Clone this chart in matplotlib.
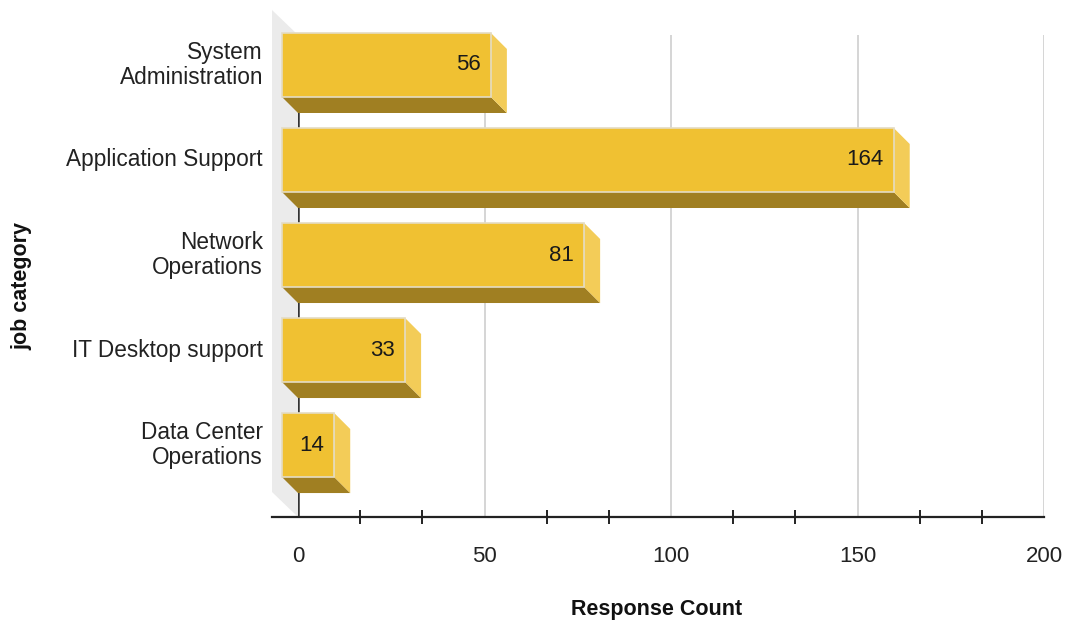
import matplotlib.pyplot as plt
from matplotlib.patches import Polygon
import numpy as np

# survey results per job category
categories = ['System\nAdministration', 'Application Support', 'Network\nOperations',
              'IT Desktop support', 'Data Center\nOperations']
counts = [56, 164, 81, 33, 14]
x_ticks = [0, 50, 100, 150, 200]

plt.rcParams['font.family'] = ['Liberation Sans', 'DejaVu Sans']
FS = 15.5

W, H = 1067, 623
fig = plt.figure(figsize=(W / 100, H / 100), dpi=100)
ax = fig.add_axes([298 / W, 1 - 517 / H, 746 / W, 482 / H])
ax.set_xlim(0, 200)
ax.set_ylim(4.589, -0.484)
for s in ax.spines.values():
    s.set_visible(False)
ax.set_yticks([])

# pixel -> data unit factors for the fake 3d depth
sx = 746 / 200.0
sy = 95.0
dx = 16 / sx
dy = 16 / sy
ytop, ybot = ax.get_ylim()[1], ax.get_ylim()[0]

# grey side wall
wx, wy = 26 / sx, 25 / sy
wall = Polygon([(0, ytop), (0, ybot), (-wx, ybot - wy), (-wx, ytop - wy)],
               closed=True, facecolor='#ebebeb', edgecolor='none', zorder=0, clip_on=False)
ax.add_patch(wall)

# grid lines and the value axis
ax.vlines(x_ticks[1:], ytop, ybot, color='#d2d2d2', lw=1.3, zorder=1)
ax.vlines(0, ytop, ybot, color='#333333', lw=1.8, zorder=1)
ax.plot([-wx, 200], [ybot, ybot], color='#222222', lw=1.6, zorder=2, clip_on=False)
minor = [t for t in np.arange(0, 200.1, 50 / 3.0) if abs(t / 50 - round(t / 50)) > 0.01]
tk = 7 / sy
ax.vlines(minor, ybot - tk, ybot + tk, color='#222222', lw=1.4, zorder=2, clip_on=False)

ax.set_xticks(x_ticks)
ax.set_xticklabels([str(t) for t in x_ticks], fontsize=16, color='#222222')
ax.tick_params(axis='x', length=0, pad=21)

# bars: front face, bottom face, right side face
h = 64 / sy
front_c = '#f0c132'
bottom_c = '#a07f22'
side_c = '#f3cc58'
for i, v in enumerate(counts):
    t, b = i - h / 2, i + h / 2
    bottom = Polygon([(-dx, b - dy), (v - dx, b - dy), (v, b), (0, b)],
                     closed=True, facecolor=bottom_c, edgecolor='none', zorder=3, clip_on=False)
    side = Polygon([(v - dx, t - dy), (v, t), (v, b), (v - dx, b - dy)],
                   closed=True, facecolor=side_c, edgecolor='none', zorder=3, clip_on=False)
    front = Polygon([(-dx, t - dy), (v - dx, t - dy), (v - dx, b - dy), (-dx, b - dy)],
                    closed=True, facecolor=front_c, edgecolor='#e4dcc4', lw=1.2,
                    zorder=4, clip_on=False)
    ax.add_patch(bottom)
    ax.add_patch(side)
    ax.add_patch(front)
    ax.text(v - dx - 10 / sx, i - dy, str(v), ha='right', va='center',
            fontsize=16, color='#1a1a1a', zorder=5)
    ax.text(-35 / sx, i - dy, categories[i], ha='right', va='center',
            multialignment='right', fontsize=16.3, linespacing=1.12,
            color='#222222', clip_on=False)

fig.text(657 / W, 1 - 610 / H, 'Response Count', ha='center', va='center',
         fontsize=FS, fontweight='bold', color='#111111')
fig.text(22 / W, 1 - 286 / H, 'job category', ha='center', va='center', rotation=90,
         fontsize=FS, fontweight='bold', color='#111111')

fig.savefig('out.png', dpi=100, facecolor='white')
